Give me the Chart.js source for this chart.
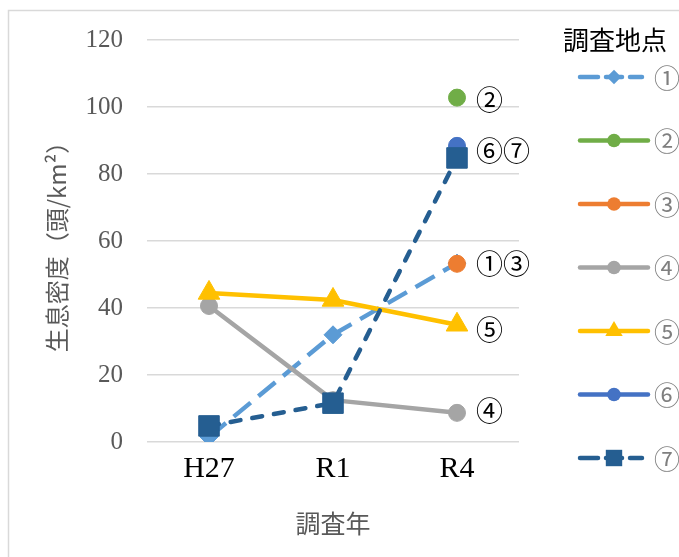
<!DOCTYPE html>
<html lang="ja">
<head>
<meta charset="utf-8">
<title>生息密度</title>
<script src="https://cdn.jsdelivr.net/npm/chart.js@4"></script>
<style>
  html, body { margin: 0; padding: 0; background: #fff; overflow: hidden; }
  #wrap { position: relative; width: 679px; height: 557px; }
</style>
</head>
<body>
<div id="wrap"><canvas id="densityChart"></canvas></div>
<script>
// 調査年
const years = ['H27', 'R1', 'R4'];
// 調査地点
const siteNames = ['①', '②', '③', '④', '⑤', '⑥', '⑦'];
// 生息密度（頭/km²）
const site1 = [1.5, 32.0, 53.4];
const site2 = [null, null, 102.8];
const site3 = [null, null, 53.2];
const site4 = [40.6, 12.5, 8.7];
const site5 = [44.5, 42.4, 35.0];
const site6 = [null, null, 88.4];
const site7 = [4.8, 11.6, 84.8];
const yMin = 0, yMax = 120, yStep = 20;

const siteValues = [site1, site2, site3, site4, site5, site6, site7];
const colors = ['#5B9BD5', '#70AD47', '#ED7D31', '#A5A5A5', '#FFC000', '#4472C4', '#255E91'];
const markers = ['rectRot', 'circle', 'circle', 'circle', 'triangle', 'circle', 'rect'];
const radii = { rectRot: 9, circle: 8.5, triangle: 12.5, rect: 14.5 };
const dashes = [[22, 10], [], [], [], [], [], [10, 12]];

const serif = '"Liberation Serif", "Noto Sans CJK JP", serif';
const jp = '"Noto Sans CJK JP", sans-serif';

const datasets = siteValues.map((vals, i) => ({
    label: siteNames[i],
    data: vals,
    borderColor: colors[i],
    backgroundColor: colors[i],
    borderWidth: 4.5,
    borderDash: dashes[i],
    borderCapStyle: i === 6 ? 'round' : 'butt',
    borderJoinStyle: 'round',
    pointStyle: markers[i],
    pointRadius: radii[markers[i]],
    pointBorderWidth: 1,
    pointHoverRadius: radii[markers[i]],
    tension: 0,
    spanGaps: false,
    // later sites on top
    order: siteNames.length - i
}));

// frame around the whole chart
const framePlugin = {
    id: 'frame',
    beforeDraw(chart) {
        const ctx = chart.ctx;
        ctx.save();
        ctx.strokeStyle = '#d9d9d9';
        ctx.lineWidth = 1.5;
        ctx.strokeRect(8.5, 10.5, 800, 800);
        ctx.restore();
    }
};

function drawMarker(ctx, style, x, y, r) {
    ctx.beginPath();
    if (style === 'circle') {
        ctx.arc(x, y, r, 0, Math.PI * 2);
    } else if (style === 'rectRot') {
        ctx.moveTo(x - r, y); ctx.lineTo(x, y - r); ctx.lineTo(x + r, y); ctx.lineTo(x, y + r);
        ctx.closePath();
    } else if (style === 'triangle') {
        ctx.moveTo(x, y - r); ctx.lineTo(x + r * 0.87, y + r * 0.5); ctx.lineTo(x - r * 0.87, y + r * 0.5);
        ctx.closePath();
    } else {
        const s = r * Math.SQRT1_2;
        ctx.rect(x - s, y - s, s * 2, s * 2);
    }
    ctx.fill();
}

// legend on the right: title + line sample with marker
const siteLegend = {
    id: 'siteLegend',
    afterDraw(chart) {
        const ctx = chart.ctx;
        ctx.save();
        ctx.fillStyle = '#000';
        ctx.font = '26px ' + jp;
        ctx.textAlign = 'left';
        ctx.textBaseline = 'middle';
        ctx.fillText('調査地点', 563, 40);
        chart.data.datasets.forEach((ds, i) => {
            const y = 77 + i * 63.5;
            ctx.strokeStyle = ds.borderColor;
            ctx.fillStyle = ds.borderColor;
            ctx.lineWidth = 4.5;
            ctx.lineCap = 'round';
            ctx.setLineDash([]);
            if (ds.borderDash.length) {
                ctx.beginPath();
                ctx.moveTo(580, y); ctx.lineTo(598, y);
                ctx.moveTo(630, y); ctx.lineTo(642, y);
                ctx.stroke();
                ctx.beginPath();
                ctx.moveTo(606, y); ctx.lineTo(622, y);
                ctx.stroke();
            } else {
                ctx.beginPath();
                ctx.moveTo(580, y); ctx.lineTo(648, y);
                ctx.stroke();
            }
            drawMarker(ctx, ds.pointStyle, 614, y, ds.pointRadius * 0.8);
            ctx.fillStyle = '#7f7f7f';
            ctx.font = '26px ' + jp;
            ctx.fillText(ds.label, 654, y + 1);
        });
        ctx.restore();
    }
};

// site labels next to the R4 points
const endLabels = [
    { site: 1, text: '②', dy: 2 },
    { site: 6, text: '⑥⑦', dy: -7 },
    { site: 2, text: '①③', dy: 0 },
    { site: 4, text: '⑤', dy: 5 },
    { site: 3, text: '④', dy: -2 }
];
const endLabelPlugin = {
    id: 'endLabels',
    afterDatasetsDraw(chart) {
        const ctx = chart.ctx;
        ctx.save();
        ctx.fillStyle = '#000';
        ctx.font = '27px ' + jp;
        ctx.textAlign = 'left';
        ctx.textBaseline = 'middle';
        endLabels.forEach(l => {
            const pt = chart.getDatasetMeta(l.site).data[years.length - 1];
            ctx.fillText(l.text, pt.x + 19, pt.y + l.dy);
        });
        ctx.restore();
    }
};

new Chart(document.getElementById('densityChart').getContext('2d'), {
    type: 'line',
    data: { labels: years, datasets: datasets },
    options: {
        responsive: true,
        maintainAspectRatio: false,
        animation: false,
        layout: { padding: { top: 40, right: 160, bottom: 0, left: 0 } },
        plugins: {
            legend: { display: false },
            tooltip: { enabled: false }
        },
        scales: {
            x: {
                offset: true,
                grid: { display: false, drawTicks: false },
                border: { display: false },
                ticks: { color: '#000', font: { family: serif, size: 30 }, padding: 9 },
                title: {
                    display: true,
                    text: '調査年',
                    color: '#595959',
                    font: { family: jp, size: 25 },
                    padding: { top: 4, bottom: 19 }
                },
                afterFit(scale) { scale.height = 115; }
            },
            y: {
                min: yMin,
                max: yMax,
                ticks: { stepSize: yStep, color: '#595959', font: { family: serif, size: 25 }, padding: 24 },
                grid: { color: '#d9d9d9', lineWidth: 1.5, drawTicks: false },
                border: { display: false },
                title: {
                    display: true,
                    text: '生息密度（頭/km²）',
                    color: '#595959',
                    font: { family: jp, size: 24 },
                    padding: { top: 42, bottom: 4 }
                },
                afterFit(scale) { scale.width = 147; }
            }
        }
    },
    plugins: [framePlugin, endLabelPlugin, siteLegend]
});
</script>
</body>
</html>
